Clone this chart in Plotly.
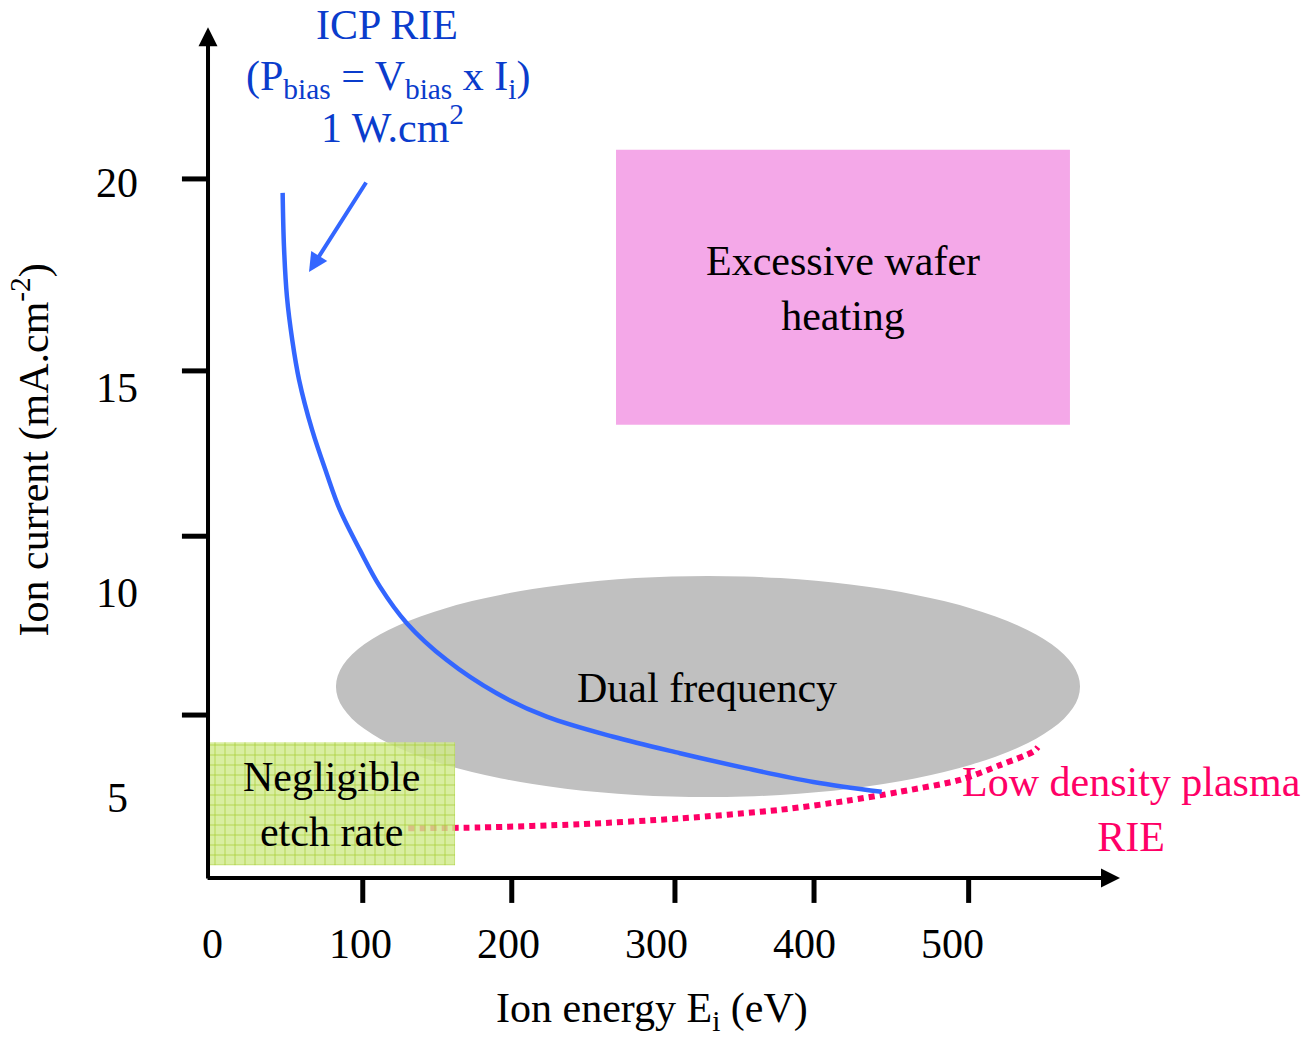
import plotly.graph_objects as go

# Constant bias-power curve of ICP RIE: ion energy (eV) vs ion current (mA.cm-2)
icp_energy = [47.7, 48.6, 50.6, 54.2, 58.8, 67.6, 77.4, 86.4, 99.9, 113.4,
              131.5, 158.5, 192.2, 226.0, 271.0, 316.0, 361.0, 406.0, 452.2]
icp_current = [19.75, 18.44, 17.22, 16.16, 15.19, 13.97, 12.91, 12.02, 11.04, 10.15,
               9.26, 8.36, 7.55, 6.98, 6.49, 6.09, 5.72, 5.39, 5.15]

# Low density plasma RIE operating line
rie_energy = [132.5, 181.0, 248.5, 316.0, 383.5, 428.6, 464.5, 505.1, 532.1, 554.6, 557.7]
rie_current = [4.26, 4.28, 4.36, 4.50, 4.71, 4.93, 5.15, 5.44, 5.80, 6.13, 6.24]

# Operating regions (energy span, current span)
heating_energy = [272.8, 579.3]
heating_current = [14.1, 20.8]
dual_energy = [83.7, 586.1]
dual_current = [5.02, 10.41]
negligible_energy = [-1.4, 164.1]
negligible_current = [3.36, 6.36]

# Axis labelling
x_tick_values = [0, 100, 200, 300, 400, 500]
y_tick_values = [5, 10, 15, 20]
x_tick_marks = [101.8, 202.4, 312.6, 406.5, 510.9]
y_tick_marks = [7.02, 11.38, 15.41, 20.09]

FONT = '"Liberation Serif", "Times New Roman", Times, serif'
FS = 42
BLUE_TEXT = "#0a3ccc"
BLUE_LINE = "#3366ff"
PINK_TEXT = "#ff0066"

# Where the drawn axes sit, in data units
E_AXIS, I_AXIS = -2.7, 3.05
E_ARROW_END, I_ARROW_END = 613.1, 23.79

fig = go.Figure()

# Low density plasma RIE dotted line
fig.add_trace(go.Scatter(
    x=rie_energy, y=rie_current, mode="lines",
    line=dict(color=PINK_TEXT, width=6, dash="6px,5px", shape="spline", smoothing=0.8),
    hoverinfo="skip"))

# Negligible etch rate region (hatched fill)
fig.add_trace(go.Scatter(
    x=[negligible_energy[0], negligible_energy[1], negligible_energy[1], negligible_energy[0], negligible_energy[0]],
    y=[negligible_current[0], negligible_current[0], negligible_current[1], negligible_current[1], negligible_current[0]],
    mode="none", fill="toself", fillcolor="rgba(206,232,128,0.85)",
    fillpattern=dict(shape="+", fgcolor="rgba(164,204,44,0.95)", bgcolor="rgba(208,234,140,0.82)",
                     size=10, solidity=0.14, fillmode="replace"),
    hoverinfo="skip"))

# ICP RIE constant-power curve
fig.add_trace(go.Scatter(
    x=icp_energy, y=icp_current, mode="lines",
    line=dict(color=BLUE_LINE, width=4.5, shape="spline", smoothing=1.0),
    hoverinfo="skip"))

shapes = [
    dict(type="rect", xref="x", yref="y", layer="below",
         x0=heating_energy[0], x1=heating_energy[1], y0=heating_current[0], y1=heating_current[1],
         fillcolor="#f4a8e8", line=dict(width=0)),
    dict(type="circle", xref="x", yref="y", layer="below",
         x0=dual_energy[0], x1=dual_energy[1], y0=dual_current[0], y1=dual_current[1],
         fillcolor="#c0c0c0", line=dict(width=0)),
]
for e in x_tick_marks:
    shapes.append(dict(type="line", xref="x", yref="y", x0=e, x1=e, y0=I_AXIS, y1=2.44,
                       line=dict(color="black", width=5)))
for i in y_tick_marks:
    shapes.append(dict(type="line", xref="x", yref="y", x0=-20.3, x1=E_AXIS, y0=i, y1=i,
                       line=dict(color="black", width=5)))

annotations = []
# Axes with arrow heads
annotations.append(dict(x=E_AXIS, y=I_ARROW_END, ax=E_AXIS, ay=I_AXIS - 0.05, xref="x", yref="y",
                        axref="x", ayref="y", text="", showarrow=True, arrowhead=2,
                        arrowsize=0.95, arrowwidth=4, arrowcolor="black"))
annotations.append(dict(x=E_ARROW_END, y=I_AXIS, ax=E_AXIS - 1.3, ay=I_AXIS, xref="x", yref="y",
                        axref="x", ayref="y", text="", showarrow=True, arrowhead=2,
                        arrowsize=0.95, arrowwidth=4, arrowcolor="black"))

# Tick labels
for v in x_tick_values:
    annotations.append(dict(x=v, y=1.44, xref="x", yref="y", text=str(v), showarrow=False,
                            font=dict(family=FONT, size=FS, color="black"),
                            xanchor="center", yanchor="middle"))
for v in y_tick_values:
    annotations.append(dict(x=-64.1, y=v, xref="x", yref="y", text=str(v), showarrow=False,
                            font=dict(family=FONT, size=FS, color="black"),
                            xanchor="center", yanchor="middle"))

# Axis titles
annotations.append(dict(x=296.8, y=-0.2, xref="x", yref="y", text="Ion energy E<sub>i</sub> (eV)",
                        showarrow=False, font=dict(family=FONT, size=FS, color="black"),
                        xanchor="center", yanchor="middle"))
annotations.append(dict(x=-122.0, y=13.48, xref="x", yref="y", text="Ion current (mA.cm<sup>-2</sup>)",
                        showarrow=False, textangle=-90, font=dict(family=FONT, size=FS, color="black"),
                        xanchor="center", yanchor="middle"))

# Region labels
annotations.append(dict(x=426.1, y=17.43, xref="x", yref="y", text="Excessive wafer<br>heating",
                        showarrow=False, font=dict(family=FONT, size=FS, color="black")))
annotations.append(dict(x=334.2, y=7.68, xref="x", yref="y", text="Dual frequency",
                        showarrow=False, font=dict(family=FONT, size=FS, color="black")))
annotations.append(dict(x=80.7, y=4.84, xref="x", yref="y", text="Negligible<br>etch rate",
                        showarrow=False, font=dict(family=FONT, size=FS, color="black")))
annotations.append(dict(x=620.9, y=4.72, xref="x", yref="y", text="Low density plasma<br>RIE",
                        showarrow=False, font=dict(family=FONT, size=FS, color=PINK_TEXT)))

# ICP RIE caption and its pointer
annotations.append(dict(x=118.2, y=23.84, xref="x", yref="y", text="ICP RIE",
                        showarrow=False, font=dict(family=FONT, size=FS, color=BLUE_TEXT)))
annotations.append(dict(x=118.8, y=22.53, xref="x", yref="y",
                        text="(P<sub>bias</sub> = V<sub>bias</sub> x I<sub>i</sub>)",
                        showarrow=False, font=dict(family=FONT, size=FS, color=BLUE_TEXT)))
annotations.append(dict(x=122.2, y=21.42, xref="x", yref="y", text="1 W.cm<sup>2</sup>",
                        showarrow=False, font=dict(family=FONT, size=FS, color=BLUE_TEXT)))
annotations.append(dict(x=65.5, y=17.82, ax=104.7, ay=20.04, xref="x", yref="y",
                        axref="x", ayref="y", text="", showarrow=True, arrowhead=2,
                        arrowsize=0.95, arrowwidth=4, arrowcolor=BLUE_LINE))

fig.update_layout(
    width=1310, height=1038,
    margin=dict(l=0, r=0, t=0, b=0),
    paper_bgcolor="white", plot_bgcolor="white",
    showlegend=False,
    xaxis=dict(range=[-143.15, 741.39], visible=False, fixedrange=True),
    yaxis=dict(range=[-0.853, 24.452], visible=False, fixedrange=True),
    shapes=shapes, annotations=annotations,
    font=dict(family=FONT, size=FS),
)

fig.write_html("out.html")
